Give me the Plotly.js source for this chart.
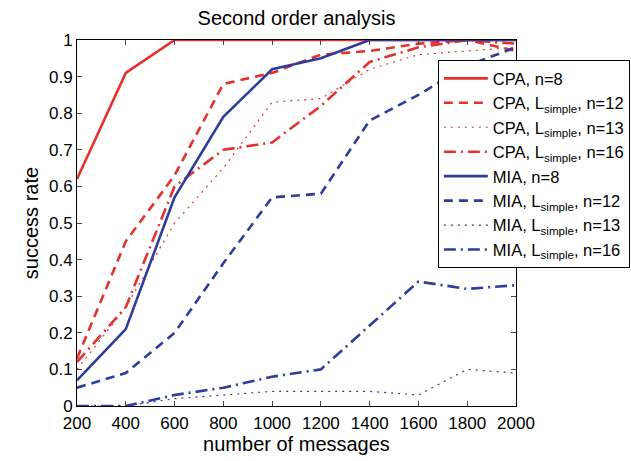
<!DOCTYPE html>
<html><head><meta charset="utf-8">
<script src="https://cdn.plot.ly/plotly-3.0.1.min.js"></script>
<style>body{margin:0;background:#fff}#c{width:631px;height:461px}</style>
</head><body><div id="c"></div>
<script>
const messages = [200,400,600,800,1000,1200,1400,1600,1800,2000];
const cpaN8    = [0.62,0.91,1.00,1.00,1.00,1.00,1.00,1.00,1.00,1.00];
const cpaL12   = [0.13,0.45,0.63,0.88,0.91,0.96,0.97,0.99,1.00,0.97];
const cpaL13   = [0.10,0.27,0.50,0.65,0.83,0.84,0.92,0.96,0.97,0.98];
const cpaL16   = [0.12,0.27,0.60,0.70,0.72,0.82,0.94,0.98,1.00,0.99];
const miaN8    = [0.07,0.21,0.57,0.79,0.92,0.95,1.00,1.00,1.00,1.00];
const miaL12   = [0.05,0.09,0.20,0.39,0.57,0.58,0.78,0.85,0.93,0.98];
const miaL13   = [0.00,0.00,0.02,0.03,0.04,0.04,0.04,0.03,0.10,0.09];
const miaL16   = [0.00,0.00,0.03,0.05,0.08,0.10,0.22,0.34,0.32,0.33];
const names = ['CPA, n=8','CPA, L<sub>simple</sub>, n=12','CPA, L<sub>simple</sub>, n=13','CPA, L<sub>simple</sub>, n=16',
               'MIA, n=8','MIA, L<sub>simple</sub>, n=12','MIA, L<sub>simple</sub>, n=13','MIA, L<sub>simple</sub>, n=16'];
const RED='#e5312b', BLUE='#2e3c9c';
const series=[cpaN8,cpaL12,cpaL13,cpaL16,miaN8,miaL12,miaL13,miaL16];
const dashes=['solid','9px,6px','2px,5px','12px,5px,2px,5px'];
const traces=series.map((y,i)=>({
  x:messages,y:y,name:names[i],mode:'lines',type:'scatter',
  line:{color:i<4?RED:BLUE,width:i%4===2?1.2:2.6,dash:dashes[i%4]}
}));
const layout={
  width:631,height:461,
  margin:{l:77,r:115,t:40,b:55,autoexpand:false},
  paper_bgcolor:'#fff',plot_bgcolor:'#fff',
  font:{family:'Liberation Sans, Arial, sans-serif',color:'#000',size:17},
  title:{text:'Second order analysis',x:0.5,xref:'paper',xanchor:'center',y:0.962,yanchor:'middle',font:{size:20}},
  xaxis:{range:[200,2000],tickvals:messages,ticks:'inside',ticklen:5,showline:true,mirror:'ticks',linecolor:'#000',linewidth:1,
    showgrid:false,zeroline:false,title:{text:'number of messages',font:{size:20},standoff:0},tickfont:{size:17},ticklabelstandoff:2},
  yaxis:{range:[0,1],ticks:'inside',ticklen:5,showline:true,mirror:'ticks',linecolor:'#000',linewidth:1,
    showgrid:false,zeroline:false,title:{text:'success rate',font:{size:20},standoff:4},tickfont:{size:17},
    tickvals:[0,0.1,0.2,0.3,0.4,0.5,0.6,0.7,0.8,0.9,1],ticktext:['0','0.1','0.2','0.3','0.4','0.5','0.6','0.7','0.8','0.9','1']},
  legend:{x:0.822,y:0.945,xanchor:'left',yanchor:'top',bgcolor:'#fff',bordercolor:'#000',borderwidth:1,
    font:{size:16.5},tracegroupgap:0,itemwidth:44},
  showlegend:true
};
Plotly.newPlot('c',traces,layout,{displayModeBar:false,staticPlot:true});
</script></body></html>
